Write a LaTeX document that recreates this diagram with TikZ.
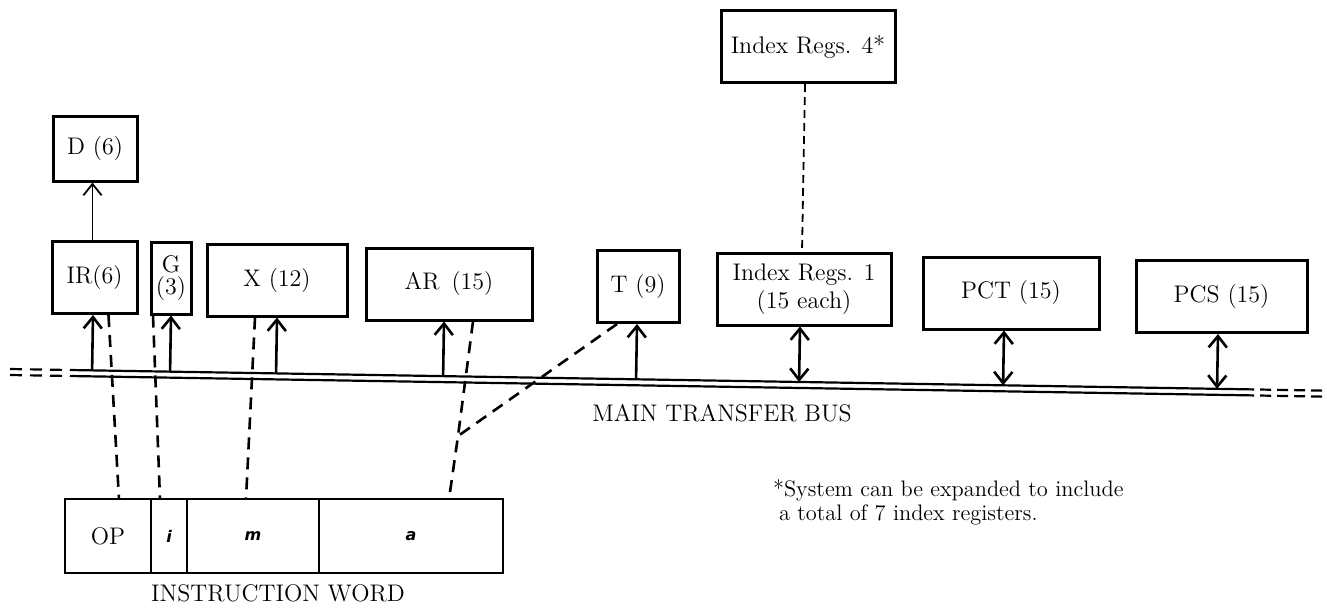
\documentclass[tikz,border=0pt]{standalone}
\usepackage{fontspec}
\usepackage{tikz}
\usetikzlibrary{arrows.meta,positioning,calc}
\newfontfamily\fieldfont{DejaVu Sans}

\begin{document}
\begin{tikzpicture}[x=0.5pt,y=-0.5pt,font=\fontsize{12}{14}\selectfont,
   reg/.style={draw,line width=1.5pt,minimum width=#1,minimum height=36pt,
             inner sep=1pt,align=center},
   fld/.style={draw,line width=1.4pt,minimum width=#1,minimum height=37pt,
             inner sep=0pt,outer sep=0pt},
   ftxt/.style={font=\fieldfont\bfseries\itshape\fontsize{8}{9}\selectfont},
   up/.style={-{Straight Barb[length=2mm,width=3.2mm]},line width=1.3pt},
   both/.style={{Straight Barb[length=2mm,width=3.2mm]}-{Straight Barb[length=2mm,width=3.2mm]},
             line width=1.3pt},
   link/.style={line width=1.3pt,dash pattern=on 6pt off 4pt},
   bus/.style={line width=1.1pt}]
  \useasboundingbox (0,0) rectangle (1327,607);
  % registers
  \node[reg=42pt,minimum height=32.5pt] (d) at (95,148.5) {D (6)};
  \node[reg=42.5pt] (ir) at (94.5,277.5) {IR(6)};
  \node[reg=20pt] (g) at (171,278) {G\\[-3pt](3)};
  \node[reg=70pt] (xreg) at (277,280) {X (12)};
  \node[reg=83pt] (ar) at (449,284) {AR\enspace(15)};
  \node[reg=41pt] (treg) at (638,286.5) {T (9)};
  \node[reg=87pt] (ir1) at (804,289) {Index Regs. 1\\(15 each)};
  \node[reg=87pt] (ir4) at (808,46.5) {Index Regs. 4*};
  \node[reg=88pt] (pct) at (1011,293) {PCT (15)};
  \node[reg=85.5pt] (pcs) at (1221.5,296.5) {PCS (15)};
  % instruction word
  \node[fld=43pt] (op) at (108,536) {OP};
  \node[fld=18pt,ftxt,right=0pt of op] (fi) {i};
  \node[fld=66pt,ftxt,right=0pt of fi] (fm) {m};
  \node[fld=92pt,ftxt,right=0pt of fm] (fa) {a};
  \node (iw) at (278,593) {INSTRUCTION WORD};
  % bus
  \coordinate (busL) at (70,370);
  \coordinate (busR) at (1253,389.4);
  \coordinate (busLL) at (10,369);
  \coordinate (busRR) at (1322,390.6);
  \draw[bus] (busL) -- (busR);
  \draw[bus] ([yshift=-3pt]busL) -- ([yshift=-3pt]busR);
  \draw[bus,dash pattern=on 6pt off 4pt] (busLL) -- (busL);
  \draw[bus,dash pattern=on 6pt off 4pt] ([yshift=-3pt]busLL) -- ([yshift=-3pt]busL);
  \draw[bus,dash pattern=on 5.5pt off 3pt] (busRR) -- (busR);
  \draw[bus,dash pattern=on 5.5pt off 3pt] ([yshift=-3pt]busRR) -- ([yshift=-3pt]busR);
  \node (mtb) at (722,413) {MAIN TRANSFER BUS};
  % bus connections
  \foreach \n/\s in {ir/-0.75pt,g/0pt,xreg/0pt,ar/-2.5pt,treg/-0.5pt}{
    \coordinate (\n top) at ([xshift=\s]\n.south);
    \draw[up] ($(busL)!(\n top)!(busR)$) -- (\n top);
  }
  \foreach \n/\s in {ir1/-2pt,pct/-3.5pt,pcs/-1.75pt}{
    \coordinate (\n top) at ([xshift=\s]\n.south);
    \draw[both] ($(busL)!(\n top)!(busR)$) -- (\n top);
  }
  \draw[-{Straight Barb[length=2mm,width=3.2mm]},line width=0.9pt]
    ([xshift=-1pt]ir.north) -- ([xshift=-1pt]ir.north |- d.south);
  % field links
  \coordinate (fork) at (458,436);
  \draw[link] ([xshift=7pt]ir.south) -- ([xshift=5.5pt]op.north);
  \draw[link] ([xshift=-9pt]g.south) -- ([xshift=-4.5pt]fi.north);
  \draw[link] ([xshift=-11pt]xreg.south) -- ([xshift=-3.5pt]fm.north);
  \draw[link] ([xshift=12pt]ar.south) -- (fork) -- ([xshift=19pt]fa.north);
  \draw[link] ([xshift=-10.5pt]treg.south) -- (fork);
  \draw[line width=0.9pt,dash pattern=on 4pt off 2.5pt]
    ([xshift=-1.5pt]ir4.south) -- ([xshift=-1pt]ir1.north);
  % note
  \node[align=left,anchor=west,font=\fontsize{11.2}{12}\selectfont] (note) at (766,502)
    {*System can be expanded to include\\\hspace*{3pt}a total of 7 index registers.};
\end{tikzpicture}
\end{document}
